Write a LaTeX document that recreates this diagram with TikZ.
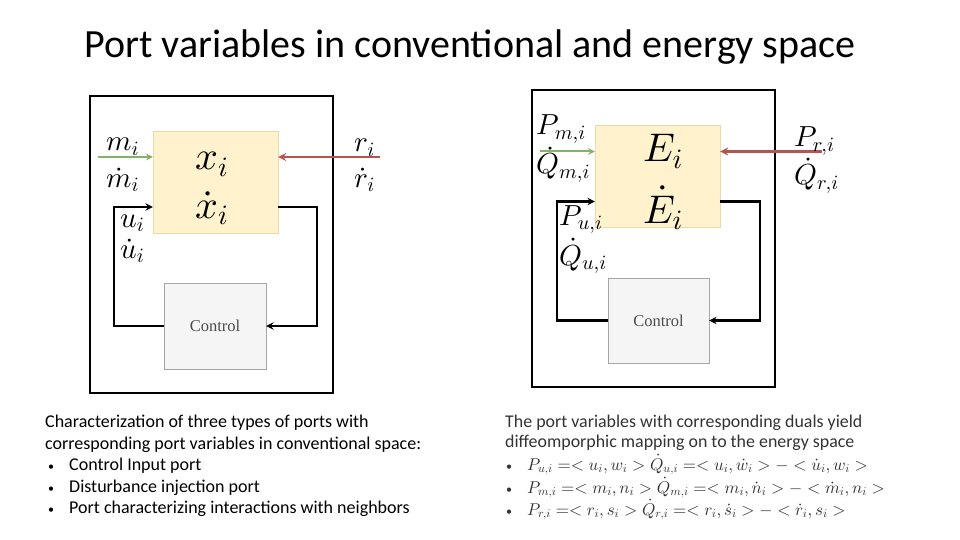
\documentclass[tikz,border=0pt]{standalone}
\usepackage{fontspec}
\newfontfamily\calibri{Carlito}
\newfontfamily\cambria{Liberation Serif}
\usetikzlibrary{positioning}
% scalable math fonts
\DeclareFontShape{OML}{cmm}{m}{it}{<->cmmi10}{}
\DeclareFontShape{OMS}{cmsy}{m}{n}{<->cmsy10}{}
\DeclareFontShape{OT1}{cmr}{m}{n}{<->cmr10}{}

\definecolor{boxyellow}{HTML}{FFF2CC}
\definecolor{boxedge}{HTML}{EBD9A8}
\definecolor{ctrlfill}{HTML}{F5F5F5}
\definecolor{ctrledge}{HTML}{A6A6A6}
\definecolor{portgreen}{HTML}{82B366}
\definecolor{portred}{HTML}{B85450}
\definecolor{notegray}{HTML}{333333}

\newcommand{\smallbullet}{{\fontsize{12}{12}\selectfont\textbullet}}

\tikzset{
  statebox/.style={draw=boxedge, fill=boxyellow, minimum width=125pt, minimum height=102pt, inner sep=0pt},
  ctrlbox/.style={draw=ctrledge, fill=ctrlfill, minimum width=102pt, minimum height=86pt, inner sep=0pt,
    font=\cambria\fontsize{16.5}{18}\selectfont, text=black!70},
  frame/.style={draw, line width=2.5pt},
  loopline/.style={->, line width=2.2pt},
  inport/.style={->, line width=2pt, portgreen},
  nbport/.style={->, line width=2.5pt, portred},
  portlabel/.style={anchor=base west, inner sep=0pt, font=\fontsize{29}{30}\selectfont},
  statelabel/.style={anchor=base west, inner sep=0pt, font=\fontsize{40}{44}\selectfont},
  note/.style={anchor=base west, inner sep=0pt, font=\calibri\fontsize{18}{20}\selectfont},
  dualnote/.style={anchor=base west, inner sep=0pt, text=notegray, font=\calibri\fontsize{17.9}{20}\selectfont},
}

\begin{document}
\begin{tikzpicture}[x=1pt, y=-1pt, >=stealth]
    \useasboundingbox[fill=white] (0,0) rectangle (960,540);

    % Titel
    \node[anchor=base, inner sep=0pt, font=\calibri\fontsize{40}{44}\selectfont] (title) at (470,58)
        {Port variables in conventional and energy space};

    % Konventioneller Raum
    \draw[frame] (90,96) rectangle (333,393);
    \node[statebox] (xbox) at (215.5,182) {};
    \node[ctrlbox] (xctrl) at (215,326) {Control};
    \node[statelabel] (xi) at (195,170) {$x_i$};
    \node[statelabel] (xidot) at (195,218) {$\dot{x}_i$};

    \coordinate (mstart) at (98,157);
    \coordinate (rstart) at (380,157);
    \draw[inport] (mstart) -- ([yshift=25pt]xbox.west);
    \draw[nbport] (rstart) -- ([yshift=25pt]xbox.east);
    \draw[loopline] ([yshift=-25pt]xbox.east) -- ++(39,0) |- (xctrl.east);
    \draw[loopline] (xctrl.west) -- ++(-50,0) |- ([yshift=-25pt]xbox.west);

    \node[portlabel] (mi) at (106,151) {$m_i$};
    \node[portlabel] (midot) at (106,187) {$\dot{m}_i$};
    \node[portlabel] (ri) at (354,152) {$r_i$};
    \node[portlabel] (ridot) at (354,187) {$\dot{r}_i$};
    \node[portlabel] (ui) at (120,227) {$u_i$};
    \node[portlabel] (uidot) at (120,258) {$\dot{u}_i$};

    % Energieraum
    \draw[frame] (532,90) rectangle (775,387);
    \node[statebox] (ebox) at (657.5,176.5) {};
    \node[ctrlbox, minimum width=101pt, minimum height=85pt] (ectrl) at (658.5,320.5) {Control};
    \node[statelabel] (ei) at (643,162) {$E_i$};
    \node[statelabel] (eidot) at (643,223) {$\dot{E}_i$};

    \coordinate (pmstart) at (540,151.5);
    \coordinate (prstart) at (822,151.5);
    \draw[inport] (pmstart) -- ([yshift=25pt]ebox.west);
    \draw[nbport] (prstart) -- ([yshift=25pt]ebox.east);
    \draw[loopline] ([yshift=-25pt]ebox.east) -- ++(40,0) |- (ectrl.east);
    \draw[loopline] (ectrl.west) -- ++(-51,0) |- ([yshift=-25pt]ebox.west);

    \node[portlabel] (pm) at (536,135) {$P_{m,i}$};
    \node[portlabel] (qm) at (536,174) {$\dot{Q}_{m,i}$};
    \node[portlabel] (pr) at (794,147) {$P_{r,i}$};
    \node[portlabel] (qr) at (794,185) {$\dot{Q}_{r,i}$};
    \node[portlabel] (pu) at (559,225) {$P_{u,i}$};
    \node[portlabel] (qu) at (559,265) {$\dot{Q}_{u,i}$};

    % Texte unten
    \node[note] (lt1) at (45,427) {Characterization of three types of ports with};
    \node[note] (lt2) at (45,449) {corresponding port variables in conventional space:};
    \node[note] (lt3) at (48,470) {\makebox[21pt][l]{\smallbullet}Control Input port};
    \node[note] (lt4) at (48,492) {\makebox[21pt][l]{\smallbullet}Disturbance injection port};
    \node[note] (lt5) at (48,513) {\makebox[21pt][l]{\smallbullet}Port characterizing interactions with neighbors};

    \node[dualnote] (rt1) at (505,427) {The port variables with corresponding duals yield};
    \node[dualnote] (rt2) at (505,447) {diffeomporphic mapping on to the energy space};
    \node[dualnote] (rt3) at (506,470)
        {\makebox[21pt][l]{\smallbullet}\fontsize{17}{20}\selectfont$P_{u,i} =< u_i, w_i > \dot{Q}_{u,i} =< u_i, \dot{w}_i > - < \dot{u}_i, w_i >$};
    \node[dualnote] (rt4) at (506,493)
        {\makebox[21pt][l]{\smallbullet}\fontsize{17}{20}\selectfont$P_{m,i} =< m_i, n_i > \dot{Q}_{m,i} =< m_i, \dot{n}_i > - < \dot{m}_i, n_i >$};
    \node[dualnote] (rt5) at (506,515)
        {\makebox[21pt][l]{\smallbullet}\fontsize{17}{20}\selectfont$P_{r,i} =< r_i, s_i > \dot{Q}_{r,i} =< r_i, \dot{s}_i > - < \dot{r}_i, s_i >$};
\end{tikzpicture}
\end{document}
